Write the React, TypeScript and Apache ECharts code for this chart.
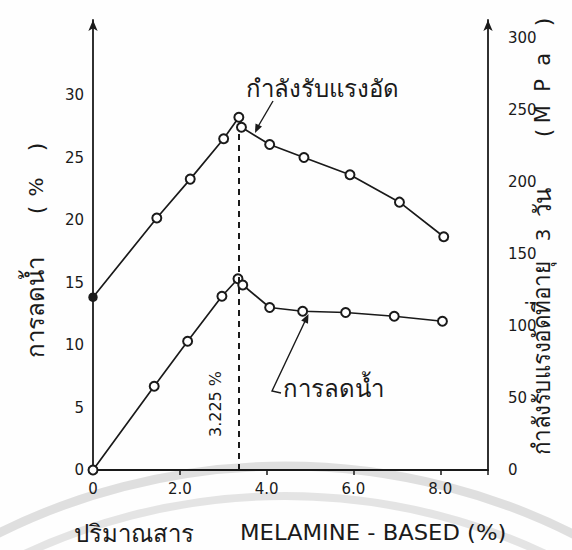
import React, { useEffect, useRef } from "react";
import * as echarts from "echarts";

// Compressive strength at 3 days (MPa) vs. melamine-based admixture (%)
const strengthX = [0, 1.47, 2.24, 3.01, 3.36, 3.42, 4.07, 4.86, 5.92, 7.06, 8.08];
const strengthY = [120, 175, 202, 230, 245, 238, 226, 217, 205, 186, 162];
// Water reduction (%) vs. melamine-based admixture (%)
const waterX = [0, 1.41, 2.18, 2.97, 3.34, 3.45, 4.07, 4.83, 5.82, 6.94, 8.05];
const waterY = [0, 6.7, 10.3, 13.9, 15.3, 14.8, 13.0, 12.7, 12.6, 12.3, 11.9];
const optimumX = 3.36;
const optimumLabel = "3.225 %";
const optimumTop = 234;
const xTicks = [0, 2, 4, 6, 8];
const leftTicks = [0, 5, 10, 15, 20, 25, 30];
const rightTicks = [0, 50, 100, 150, 200, 250, 300];

const FONT = "DejaVu Sans";
const THAI = "Noto Sans";
const INK = "#1a1a1a";

const vText = (text: string, x: number, y: number, size: number, font = THAI, sx = 1) => ({
  type: "text",
  x,
  y,
  rotation: Math.PI / 2,
  scaleX: sx,
  style: { text, fill: INK, font: `${size}px "${font}"`, align: "center", verticalAlign: "middle" },
});

export default function App() {
  const ref = useRef<HTMLDivElement>(null);
  useEffect(() => {
    if (!ref.current) return;
    const chart = echarts.init(ref.current, undefined, { renderer: "svg" });
    const tickLabel = { color: INK, fontFamily: FONT, fontSize: 15 };
    chart.setOption({
      animation: false,
      backgroundColor: "#fefefe",
      grid: { left: 93, right: 84, top: 20, bottom: 80, containLabel: false },
      xAxis: {
        type: "value",
        min: 0,
        max: 9.1,
        interval: 2,
        axisLine: { lineStyle: { color: INK, width: 1.8 } },
        axisTick: { show: true, inside: false, length: 5, lineStyle: { color: INK, width: 1.5 } },
        axisLabel: {
          ...tickLabel,
          margin: 11,
          formatter: (v: number) => (xTicks.includes(v) ? (v === 0 ? "0" : v.toFixed(1)) : ""),
        },
        splitLine: { show: false },
      },
      yAxis: [
        {
          type: "value",
          position: "left",
          min: 0,
          max: 36,
          interval: 5,
          axisLine: { show: true, symbol: ["none", "arrow"], symbolSize: [7, 11], lineStyle: { color: INK, width: 1.8 } },
          axisTick: { show: false },
          axisLabel: {
            ...tickLabel,
            margin: 9,
            formatter: (v: number) => (leftTicks.includes(v) ? String(v) : ""),
          },
          splitLine: { show: false },
        },
        {
          type: "value",
          position: "right",
          min: 0,
          max: 312.5,
          interval: 50,
          axisLine: { show: true, symbol: ["none", "arrow"], symbolSize: [7, 11], lineStyle: { color: INK, width: 1.8 } },
          axisTick: { show: false },
          axisLabel: {
            ...tickLabel,
            margin: 20,
            formatter: (v: number) => (rightTicks.includes(v) ? String(v) : ""),
          },
          splitLine: { show: false },
        },
      ],
      series: [
        {
          name: "กำลังรับแรงอัด",
          type: "line",
          yAxisIndex: 1,
          data: strengthX.map((x, i) =>
            i === 0
              ? { value: [x, strengthY[i]], symbol: "circle", symbolSize: 8 }
              : [x, strengthY[i]]
          ),
          symbol: "emptyCircle",
          symbolSize: 9,
          lineStyle: { color: INK, width: 1.7 },
          itemStyle: { color: INK, borderWidth: 1.5, borderColor: INK },
          markLine: {
            silent: true,
            symbol: ["none", "none"],
            label: { show: false },
            lineStyle: { color: INK, type: [6, 5], width: 2 },
            data: [[{ coord: [optimumX, 0] }, { coord: [optimumX, optimumTop] }]],
          },
          z: 3,
        },
        {
          name: "การลดน้ำ",
          type: "line",
          yAxisIndex: 0,
          data: waterX.map((x, i) => [x, waterY[i]]),
          symbol: "emptyCircle",
          symbolSize: 9,
          lineStyle: { color: INK, width: 1.7 },
          itemStyle: { color: INK, borderWidth: 1.5, borderColor: INK },
          z: 3,
        },
      ],
      graphic: [
        // faint watermark rings
        {
          type: "arc",
          silent: true,
          z: -10,
          shape: { cx: 285, cy: 1110, r: 644, startAngle: Math.PI * 1.2, endAngle: Math.PI * 1.8 },
          style: { stroke: "rgba(0,0,0,0.12)", lineWidth: 9, fill: "none" },
        },
        {
          type: "arc",
          silent: true,
          z: -10,
          shape: { cx: 285, cy: 1110, r: 614, startAngle: Math.PI * 1.2, endAngle: Math.PI * 1.8 },
          style: { stroke: "rgba(0,0,0,0.10)", lineWidth: 8, fill: "none" },
        },
        // left axis title
        vText("การลดน้ำ", 34, 307, 24),
        vText("(", 36, 210, 22, FONT),
        vText("%", 36, 187, 20, FONT),
        vText(")", 36, 147, 22, FONT),
        // right axis title
        vText("กำลังรับแรงอัดที่อายุ", 541, 358, 24, THAI, 0.93),
        vText("3", 543, 235, 20, FONT),
        vText("วัน", 541, 202, 24),
        vText("(", 543, 133, 22, FONT),
        vText("M  P  a", 543, 88, 21, FONT),
        vText(")", 543, 22, 22, FONT),
        // strength annotation
        {
          type: "text",
          x: 322,
          y: 87,
          style: { text: "กำลังรับแรงอัด", fill: INK, font: `24px "${THAI}"`, align: "center", verticalAlign: "middle" },
        },
        {
          type: "line",
          shape: { x1: 273, y1: 101, x2: 256, y2: 130 },
          style: { stroke: INK, lineWidth: 1.4 },
        },
        {
          type: "polygon",
          shape: { points: [[255, 133], [262, 126.5], [255.5, 123.5]] },
          style: { fill: INK },
        },
        // water reduction annotation
        {
          type: "polyline",
          shape: { points: [[281, 393], [272, 391], [307, 317]] },
          style: { stroke: INK, lineWidth: 1.4, fill: "none" },
        },
        {
          type: "polygon",
          shape: { points: [[308.5, 314], [308, 323.7], [301.2, 320.6]] },
          style: { fill: INK },
        },
        {
          type: "text",
          x: 283,
          y: 387,
          style: { text: "การลดน้ำ", fill: INK, font: `24px "${THAI}"`, align: "left", verticalAlign: "middle" },
        },
        // optimum label
        {
          type: "text",
          x: 215,
          y: 404,
          rotation: Math.PI / 2,
          style: { text: optimumLabel, fill: INK, font: `16px "${FONT}"`, align: "center", verticalAlign: "middle" },
        },
        // x-axis title
        {
          type: "text",
          x: 74,
          y: 532,
          style: { text: "ปริมาณสาร", fill: INK, font: `24px "${THAI}"`, align: "left", verticalAlign: "middle" },
        },
        {
          type: "text",
          x: 240,
          y: 533,
          scaleX: 1.08,
          style: { text: "MELAMINE - BASED (%)", fill: INK, font: `21px "${FONT}"`, align: "left", verticalAlign: "middle" },
        },
      ],
    });
    return () => chart.dispose();
  }, []);
  return <div ref={ref} style={{ position: "fixed", left: 0, top: 0, width: 572, height: 550 }} />;
}
